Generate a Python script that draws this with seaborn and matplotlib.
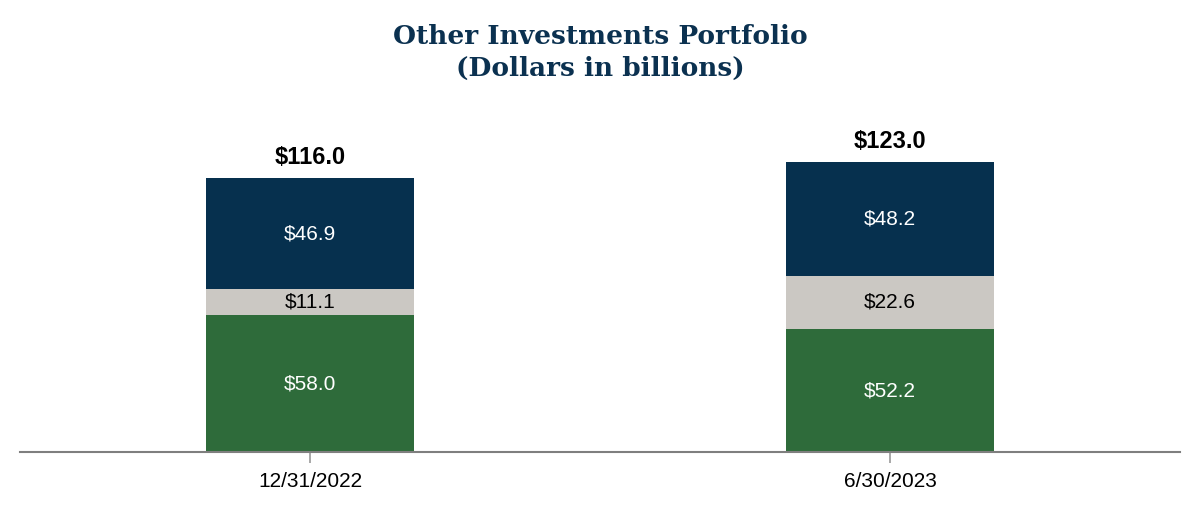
import pandas as pd
import seaborn as sns
import matplotlib.pyplot as plt

# data (billions of dollars)
dates = ["12/31/2022", "6/30/2023"]
green_vals = [58.0, 52.2]
gray_vals = [11.1, 22.6]
navy_vals = [46.9, 48.2]
totals = [116.0, 123.0]

NAVY = "#06304e"
GRAY = "#cbc8c3"
GREEN = "#2e6b3a"

df = pd.DataFrame({"date": dates, "green": green_vals, "gray": gray_vals, "navy": navy_vals})
df["lvl2"] = df["green"] + df["gray"]
df["lvl3"] = df["lvl2"] + df["navy"]

sns.set_style("white")
plt.rcParams["font.family"] = ["Liberation Sans", "DejaVu Sans"]

fig = plt.figure(figsize=(12, 5.12), dpi=100)
ax = fig.add_axes([0.0167, 0.117, 0.9667, 0.645])

# stacked bars: draw cumulative heights from top layer down
bar_kw = dict(width=0.359, saturation=1, linewidth=0, ax=ax)
sns.barplot(data=df, x="date", y="lvl3", color=NAVY, **bar_kw)
sns.barplot(data=df, x="date", y="lvl2", color=GRAY, **bar_kw)
sns.barplot(data=df, x="date", y="green", color=GREEN, **bar_kw)

for i, row in df.iterrows():
    ax.text(i, row["green"] / 2, f"${row['green']:.1f}", ha="center", va="center",
            color="white", fontsize=15)
    ax.text(i, row["green"] + row["gray"] / 2, f"${row['gray']:.1f}", ha="center", va="center",
            color="black", fontsize=15)
    ax.text(i, row["lvl2"] + row["navy"] / 2, f"${row['navy']:.1f}", ha="center", va="center",
            color="white", fontsize=15)
    ax.text(i, row["lvl3"] + 4, f"${totals[i]:.1f}", ha="center", va="bottom",
            color="black", fontsize=17, fontweight="bold")

ax.set_xlim(-0.5, 1.5)
ax.set_ylim(0, 140)
ax.set_xlabel("")
ax.set_ylabel("")
ax.set_yticks([])
for s in ["top", "right", "left"]:
    ax.spines[s].set_visible(False)
ax.spines["bottom"].set_color("#7f7f7f")
ax.spines["bottom"].set_linewidth(1.5)
ax.tick_params(axis="x", length=8, width=1.2, color="#9a9a9a", labelsize=15, pad=6,
               labelcolor="black", bottom=True, direction="out")

fig.text(0.5, 0.898, "Other Investments Portfolio\n(Dollars in billions)", ha="center", va="center",
         fontsize=19, fontweight="bold", color="#0b3150", family="DejaVu Serif", linespacing=1.35)

fig.savefig("out.png", dpi=100)
